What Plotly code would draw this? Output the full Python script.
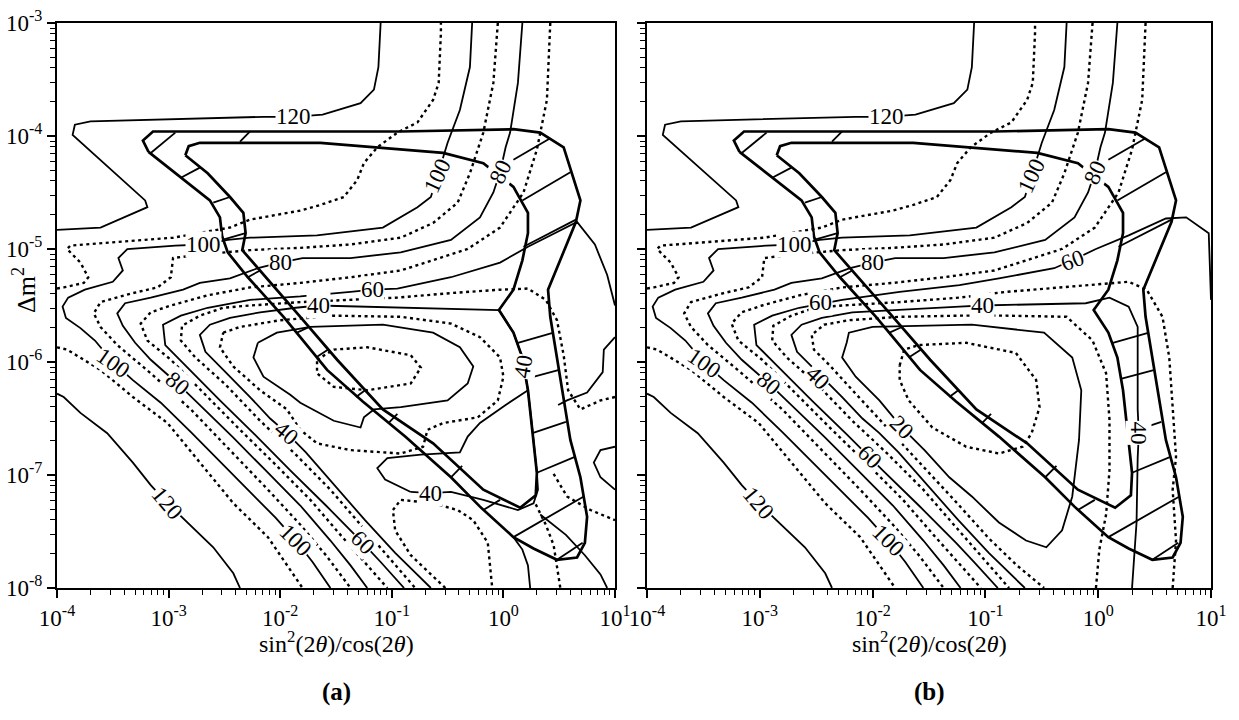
import numpy as np
import plotly.graph_objects as go

# All curve data are log10 values:  x = log10(sin^2(2θ)/cos(2θ)),  y = log10(Δm^2)

# ---------------- contours common to panels (a) and (b) ----------------
c120_top_x = [-4.00,-3.61,-3.19,-3.21,-3.86,-3.84,-3.70,-2.15,-1.88,-1.62,-1.28,-1.16,-1.12,-1.10]
c120_top_y = [-4.83,-4.81,-4.63,-4.57,-3.99,-3.90,-3.87,-3.83,-3.83,-3.81,-3.71,-3.59,-3.39,-3.00]
c120_low_x = [-4.00,-3.94,-3.79,-3.55,-3.32,-3.16,-3.01,-2.85,-2.60,-2.42,-2.36]
c120_low_y = [-6.28,-6.31,-6.45,-6.63,-6.89,-7.09,-7.25,-7.40,-7.64,-7.87,-8.00]
c110_top_x = [-4.00,-3.94,-3.76,-3.72,-3.79,-3.91,-3.88,-2.96,-2.45,-2.27,-1.82,-1.64,-1.43,-1.31,-1.25,-1.13,-0.95,-0.77,-0.63,-0.58,-0.56,-0.56]
c110_top_y = [-5.35,-5.34,-5.30,-5.25,-5.12,-5.00,-4.97,-4.90,-4.81,-4.74,-4.66,-4.61,-4.54,-4.39,-4.24,-4.10,-3.97,-3.88,-3.68,-3.53,-3.09,-3.00]
c110_low_x = [-4.00,-3.91,-3.61,-3.32,-3.01,-2.72,-2.42,-2.11,-1.80]
c110_low_y = [-5.87,-5.89,-6.07,-6.31,-6.54,-6.89,-7.25,-7.55,-8.00]
c100_x = [-0.28,-0.30,-0.39,-0.50,-0.59,-0.65,-0.77,-1.08,-1.67,-2.27,-2.47,-2.69,-2.94,-3.37,-3.45,-3.41,-3.50,
          -3.75,-3.90,-3.95,-3.92,-3.79,-3.66,-3.49,-3.32,-3.07,-2.80,-2.54,-2.27,-2.04,-1.86,-1.71,-1.55]
c100_y = [-3.00,-3.39,-3.77,-4.06,-4.35,-4.54,-4.63,-4.81,-4.88,-4.90,-4.92,-4.96,-4.97,-5.00,-5.08,-5.19,-5.29,
          -5.36,-5.43,-5.51,-5.61,-5.70,-5.81,-6.01,-6.16,-6.36,-6.62,-6.88,-7.15,-7.38,-7.58,-7.77,-8.00]
c90_x = [-0.05,-0.09,-0.18,-0.30,-0.41,-0.63,-0.92,-1.37,-1.82,-2.27,-2.72,-2.96,-2.98,-3.10,-3.32,-3.61,-3.67,
         -3.61,-3.46,-3.16,-2.80,-2.45,-2.11,-1.82,-1.59,-1.37]
c90_y = [-3.00,-3.53,-3.97,-4.33,-4.59,-4.77,-4.90,-4.96,-4.99,-5.01,-5.05,-5.08,-5.25,-5.34,-5.39,-5.47,-5.57,
         -5.69,-5.85,-6.10,-6.42,-6.78,-7.13,-7.44,-7.71,-8.00]
c80_x = [0.17,0.13,0.06,0.02,-0.03,-0.09,-0.21,-0.47,-0.92,-1.37,-1.80,-2.00,-2.20,-2.45,-2.72,-2.87,-3.16,-3.39,
         -3.46,-3.41,-3.30,-3.16,-2.92,-2.72,-2.42,-2.13,-1.82,-1.55,-1.37,-1.22]
c80_y = [-3.00,-3.53,-3.97,-4.10,-4.32,-4.50,-4.72,-4.92,-5.03,-5.08,-5.08,-5.12,-5.17,-5.26,-5.30,-5.36,-5.43,-5.48,
         -5.57,-5.68,-5.83,-5.98,-6.19,-6.38,-6.67,-6.96,-7.27,-7.58,-7.80,-8.00]
c70_x = [0.42,0.39,0.30,0.18,-0.03,-0.32,-0.92,-1.37,-1.82,-2.27,-2.65,-2.98,-3.16,-3.25,-3.19,-2.98,-2.67,-2.36,
         -2.04,-1.73,-1.46,-1.24,-1.04]
c70_y = [-3.00,-3.68,-4.12,-4.50,-4.81,-5.00,-5.19,-5.25,-5.30,-5.34,-5.41,-5.50,-5.56,-5.66,-5.81,-5.98,-6.29,-6.60,
         -6.91,-7.22,-7.53,-7.78,-8.00]

# hatched boundary band (outer and inner edge, cross strokes)
band_out_x = [-3.18,-3.23,-3.14,-2.27,-0.92,0.09,0.33,0.54,0.69,0.65,0.51,0.40,0.42,0.48,0.54,0.60,0.69,0.75,0.73,
              0.66,0.48,0.27,0.09,-0.21,-0.47,-0.88,-1.26,-1.58,-1.82,-1.97,-2.29,-2.47,-2.52,-2.54,-2.63,-2.89,-3.18]
band_out_y = [-4.14,-4.04,-3.96,-3.96,-3.96,-3.94,-3.97,-4.10,-4.57,-4.76,-5.10,-5.36,-5.60,-5.96,-6.34,-6.69,-7.02,
              -7.37,-7.60,-7.73,-7.75,-7.65,-7.55,-7.28,-7.02,-6.66,-6.35,-6.07,-5.78,-5.60,-5.25,-5.03,-4.89,-4.72,
              -4.57,-4.37,-4.14]
band_in_x = [-2.85,-2.82,-2.72,-1.64,-0.54,-0.18,0.09,0.22,0.22,0.17,0.09,-0.04,0.09,0.17,0.22,0.26,0.30,0.29,0.15,
             -0.18,-0.63,-1.08,-1.49,-1.82,-2.18,-2.34,-2.31,-2.33,-2.45,-2.65,-2.85]
band_in_y = [-4.17,-4.09,-4.06,-4.06,-4.15,-4.24,-4.45,-4.68,-4.86,-5.10,-5.36,-5.54,-5.74,-5.96,-6.25,-6.60,-6.98,
             -7.18,-7.29,-7.13,-6.72,-6.42,-5.98,-5.60,-5.19,-5.01,-4.86,-4.68,-4.54,-4.33,-4.17]
hatch_x0 = [-3.16,-2.36,-2.89,-2.60,-2.52,-2.29,-1.85,-1.68,-1.32,-1.03,-0.47,-0.18,0.09,0.17,0.18,0.13,0.20,0.26,0.30,0.09,0.48]
hatch_y0 = [-4.15,-4.05,-4.37,-4.59,-4.92,-5.25,-5.74,-5.96,-6.31,-6.54,-7.02,-7.31,-4.21,-4.57,-4.98,-5.83,-6.15,-6.63,-6.98,-7.55,-7.75]
hatch_x1 = [-2.94,-2.27,-2.72,-2.45,-2.31,-2.18,-1.74,-1.57,-1.24,-0.95,-0.37,-0.03,0.42,0.60,0.65,0.45,0.50,0.56,0.64,0.72,0.71]
hatch_y1 = [-3.97,-3.96,-4.28,-4.54,-4.86,-5.19,-5.69,-5.89,-6.25,-6.46,-6.92,-7.22,-4.02,-4.32,-4.74,-5.74,-6.07,-6.53,-6.84,-7.19,-7.60]

# ---------------- panel (a) only ----------------
c60a_x = [1.00,0.93,0.82,0.66,0.42,0.22,-0.03,-0.47,-0.95,-1.17,-1.37,-1.82,-2.27,-2.65,-2.89,-3.05,-3.03,-2.85,
          -2.54,-2.22,-1.91,-1.59,-1.39,-1.26,-1.10,-0.89]
c60a_y = [-5.50,-5.23,-4.96,-4.76,-4.88,-4.98,-5.12,-5.25,-5.35,-5.36,-5.38,-5.42,-5.45,-5.52,-5.59,-5.67,-5.85,-6.03,
          -6.34,-6.65,-6.96,-7.27,-7.47,-7.60,-7.77,-8.00]
c50a_x = [1.00,0.87,0.69,0.58,0.54,0.48,0.38,0.22,-0.03,-0.47,-0.95,-1.37,-1.82,-2.27,-2.51,-2.72,-2.88,-2.89,-2.76,
          -2.49,-2.18,-1.86,-1.55,-1.28,-1.01,-0.79]
c50a_y = [-6.31,-6.34,-6.42,-6.25,-5.94,-5.63,-5.45,-5.35,-5.36,-5.39,-5.43,-5.45,-5.47,-5.50,-5.52,-5.59,-5.68,-5.81,
          -5.96,-6.20,-6.52,-6.82,-7.13,-7.44,-7.75,-8.00]
c40a_x = [-0.83,-0.65,-0.47,-0.18,0.13,0.27,0.31,0.30,0.26,0.22,0.17,0.09,-0.04,-0.47,-0.92,-1.22,-1.46,-1.66,-1.86,
          -2.18,-2.45,-2.63,-2.72,-2.67,-2.49,-2.27,-2.09,-1.94,-1.77,-1.51,-1.24,-0.97,-0.65]
c40a_y = [-7.15,-7.16,-7.15,-7.22,-7.31,-7.25,-7.13,-6.98,-6.60,-6.25,-5.96,-5.74,-5.54,-5.53,-5.52,-5.51,-5.51,-5.50,
          -5.52,-5.56,-5.61,-5.67,-5.76,-5.91,-6.09,-6.31,-6.50,-6.63,-6.80,-7.09,-7.40,-7.69,-8.00]
c40a_wave_x = [-0.83,-1.06,-1.13,-1.04,-0.74,-0.39,-0.32,-0.21,0.02,0.22]
c40a_wave_y = [-7.15,-7.04,-6.94,-6.85,-6.82,-6.80,-6.66,-6.54,-6.38,-6.25]
c30a_x = [-2.51,-2.36,-2.00,-1.52,-0.92,-0.47,-0.21,-0.03,0.00,-0.05,-0.23,-0.54,-0.68,-0.72,-0.92,-1.37,-1.67,-1.82,
          -1.94,-2.18,-2.42,-2.54,-2.51]
c30a_y = [-5.74,-5.69,-5.63,-5.59,-5.60,-5.66,-5.78,-5.96,-6.13,-6.34,-6.49,-6.54,-6.60,-6.75,-6.81,-6.78,-6.72,-6.60,
          -6.42,-6.25,-6.04,-5.87,-5.74]
c20a_x = [-2.20,-2.03,-1.73,-1.08,-0.63,-0.39,-0.27,-0.32,-0.50,-0.92,-1.16,-1.25,-1.28,-1.52,-1.82,-1.91,-2.15,-2.24,-2.20]
c20a_y = [-5.83,-5.74,-5.69,-5.67,-5.74,-5.87,-6.04,-6.19,-6.34,-6.40,-6.42,-6.49,-6.58,-6.52,-6.36,-6.29,-6.13,-5.96,-5.83]
c10a_x = [-1.67,-1.52,-1.22,-0.83,-0.74,-0.83,-1.22,-1.52,-1.67,-1.67]
c10a_y = [-5.98,-5.89,-5.87,-5.94,-6.05,-6.19,-6.25,-6.22,-6.10,-5.98]
cUa_x = [-0.52,-0.65,-0.83,-0.97,-0.99,-0.92,-0.63,-0.41,-0.27,-0.14,-0.12,-0.10]
cUa_y = [-8.00,-7.88,-7.71,-7.49,-7.31,-7.22,-7.25,-7.31,-7.40,-7.60,-7.78,-8.00]
a_s1_x = [0.09,0.17,0.22,0.24];             a_s1_y = [-7.55,-7.66,-7.80,-8.00]
a_s2_x = [0.33,0.56,0.73,0.87,0.93];        a_s2_y = [-7.35,-7.53,-7.71,-7.88,-8.00]
a_s3_x = [1.00,0.87,0.81,0.87,1.00];        a_s3_y = [-6.75,-6.78,-6.89,-7.02,-7.13]
a_s4_x = [1.00,0.90,0.89,0.75,0.57,0.49];   a_s4_y = [-5.78,-5.89,-6.09,-6.27,-6.34,-6.38]
a_d1_x = [0.29,0.38,0.45,0.48,0.51];        a_d1_y = [-7.26,-7.44,-7.62,-7.80,-8.00]
a_d2_x = [0.45,0.57,0.78,1.00];             a_d2_y = [-6.99,-7.19,-7.31,-7.40]

# ---------------- panel (b) only ----------------
c60b_right_x = [1.00,0.98,0.78,0.60,0.27,-0.02,-0.23,-0.39,-0.88,-1.23,-1.76]
c60b_right_y = [-5.45,-4.86,-4.72,-4.73,-4.88,-5.00,-5.10,-5.17,-5.26,-5.32,-5.38]
c50b_right_x = [0.66,0.69,0.66,0.69,0.66,0.63,0.57,0.43,0.27,0.01,-0.35,-0.82,-1.23,-1.76]
c50b_right_y = [-8.00,-7.58,-7.13,-6.84,-6.40,-5.96,-5.60,-5.36,-5.29,-5.31,-5.34,-5.38,-5.43,-5.47]
c40b_right_x = [0.30,0.34,0.35,0.36,0.35,0.35,0.27,0.10,-0.11,-0.52,-0.79,-1.03,-1.23,-1.76]
c40b_right_y = [-8.00,-7.42,-6.85,-6.63,-6.42,-5.69,-5.51,-5.43,-5.48,-5.49,-5.49,-5.50,-5.51,-5.54]
c30b_x = [-0.02,0.01,0.07,0.10,0.10,0.07,-0.05,-0.28,-0.82,-1.23,-1.76,-2.21,-2.43,-2.54,-2.52,-2.38,-2.16,-1.87,
          -1.57,-1.25,-0.97,-0.72,-0.48]
c30b_y = [-8.00,-7.66,-7.35,-6.96,-6.51,-6.10,-5.81,-5.60,-5.59,-5.59,-5.60,-5.63,-5.67,-5.76,-5.89,-6.03,-6.27,-6.58,
          -6.91,-7.25,-7.56,-7.80,-8.00]
c20b_x = [-2.23,-2.27,-2.15,-1.94,-1.74,-1.54,-1.32,-1.12,-0.88,-0.64,-0.46,-0.32,-0.23,-0.17,-0.15,-0.23,-0.48,-1.12,
          -2.00,-2.21,-2.23]
c20b_y = [-5.83,-5.96,-6.13,-6.34,-6.58,-6.78,-7.02,-7.19,-7.42,-7.58,-7.64,-7.49,-7.19,-6.69,-6.25,-5.96,-5.74,-5.67,
          -5.69,-5.74,-5.83]
c10b_x = [-1.76,-1.72,-1.59,-1.17,-0.73,-0.55,-0.52,-0.59,-0.67,-0.88,-1.17,-1.47,-1.68,-1.76,-1.76]
c10b_y = [-6.03,-5.89,-5.85,-5.83,-5.92,-6.16,-6.40,-6.63,-6.75,-6.81,-6.75,-6.58,-6.34,-6.16,-6.03]

# panel (b) contours 60, 50, 40 continue along the same lower-left arms as in (a)
c60b_x = c60b_right_x + c60a_x[12:];  c60b_y = c60b_right_y + c60a_y[12:]
c50b_x = c50b_right_x + c50a_x[13:];  c50b_y = c50b_right_y + c50a_y[13:]
c40b_x = c40b_right_x + c40a_x[19:];  c40b_y = c40b_right_y + c40a_y[19:]

# ---------------- contour labels ----------------
lab_common = [("120", -1.88, -3.83, 0), ("120", -3.01, -7.25, 50), ("100", -0.59, -4.35, -65),
              ("100", -2.69, -4.96, 0), ("100", -3.49, -6.01, 35), ("100", -1.86, -7.58, 45),
              ("80", -0.03, -4.32, -65), ("80", -2.00, -5.12, 0), ("80", -2.92, -6.19, 40)]
lab_a = [("60", -1.17, -5.36, 0), ("60", -1.26, -7.60, 45), ("40", -1.66, -5.50, 0),
         ("40", -1.94, -6.63, 40), ("40", -0.65, -7.16, 0), ("40", 0.18, -6.04, -80)]
lab_b = [("60", -2.46, -5.47, 0), ("60", -0.23, -5.10, -20), ("60", -2.03, -6.84, 45),
         ("40", -1.03, -5.50, 0), ("40", -2.49, -6.14, 45), ("20", -1.74, -6.58, 45),
         ("40", 0.36, -6.63, 90)]

x_tick_exp = [-4, -3, -2, -1, 0, 1]
y_tick_exp = [-8, -7, -6, -5, -4, -3]

# ---------------- figure ----------------
SOLID = dict(color="black", width=1.8)
DASH = dict(color="black", width=2.4, dash="3px,3.5px")
BAND = dict(color="black", width=2.7)

fig = go.Figure()

def add(xs, ys, ax, line):
    fig.add_trace(go.Scatter(x=np.power(10.0, np.array(xs)), y=np.power(10.0, np.array(ys)),
                             mode="lines", line=line, xaxis=ax[0], yaxis=ax[1],
                             hoverinfo="skip", showlegend=False))

common_solid = [(c120_top_x, c120_top_y), (c120_low_x, c120_low_y), (c100_x, c100_y), (c80_x, c80_y)]
common_dash = [(c110_top_x, c110_top_y), (c110_low_x, c110_low_y), (c90_x, c90_y), (c70_x, c70_y)]
a_solid = [(c60a_x, c60a_y), (c40a_x, c40a_y), (c40a_wave_x, c40a_wave_y), (c20a_x, c20a_y),
           (a_s1_x, a_s1_y), (a_s2_x, a_s2_y), (a_s3_x, a_s3_y), (a_s4_x, a_s4_y)]
a_dash = [(c50a_x, c50a_y), (c30a_x, c30a_y), (c10a_x, c10a_y), (cUa_x, cUa_y), (a_d1_x, a_d1_y), (a_d2_x, a_d2_y)]
b_solid = [(c60b_x, c60b_y), (c40b_x, c40b_y), (c20b_x, c20b_y)]
b_dash = [(c50b_x, c50b_y), (c30b_x, c30b_y), (c10b_x, c10b_y)]

hx, hy = [], []
for x0, y0, x1, y1 in zip(hatch_x0, hatch_y0, hatch_x1, hatch_y1):
    hx += [10 ** x0, 10 ** x1, None]
    hy += [10 ** y0, 10 ** y1, None]

panels = {"a": ("x", "y"), "b": ("x2", "y2")}
for key, ax in panels.items():
    for xs, ys in common_solid:
        add(xs, ys, ax, SOLID)
    for xs, ys in common_dash:
        add(xs, ys, ax, DASH)
    for xs, ys in (a_solid if key == "a" else b_solid):
        add(xs, ys, ax, SOLID)
    for xs, ys in (a_dash if key == "a" else b_dash):
        add(xs, ys, ax, DASH)
    add(band_out_x, band_out_y, ax, BAND)
    add(band_in_x, band_in_y, ax, BAND)
    fig.add_trace(go.Scatter(x=hx, y=hy, mode="lines", line=SOLID, xaxis=ax[0], yaxis=ax[1],
                             hoverinfo="skip", showlegend=False))

LABEL_FONT = dict(family="Liberation Serif", size=23, color="black")
ann = []
for key, ax in panels.items():
    for txt, lx, ly, ang in lab_common + (lab_a if key == "a" else lab_b):
        ann.append(dict(x=lx, y=ly, xref=ax[0], yref=ax[1], text=txt, textangle=ang, showarrow=False,
                        xanchor="center", yanchor="middle",
                        font=LABEL_FONT, bgcolor="white", borderpad=0))

W, H = 1239, 720
TITLE_FONT = dict(family="Liberation Serif", size=24, color="black")
PANEL_FONT = dict(family="Liberation Serif", size=25, color="black")
def paper_text(px, py, text, font, angle=0):
    return dict(x=px / W, y=1 - py / H, xref="paper", yref="paper", showarrow=False, text=text,
                font=font, textangle=angle, xanchor="center", yanchor="middle")

ann += [
    paper_text(336, 642, "sin<sup>2</sup>(2<i>θ</i>)/cos(2<i>θ</i>)", TITLE_FONT),
    paper_text(929, 642, "sin<sup>2</sup>(2<i>θ</i>)/cos(2<i>θ</i>)", TITLE_FONT),
    paper_text(336, 692, "<b>(a)</b>", PANEL_FONT),
    paper_text(929, 692, "<b>(b)</b>", PANEL_FONT),
    paper_text(24, 290, "Δm<sup>2</sup>", dict(family="Liberation Serif", size=26, color="black"), -90),
]

xt_vals = [10.0 ** e for e in x_tick_exp]
xt_text = ["10<sup>%d</sup>" % e for e in x_tick_exp]
yt_vals = [10.0 ** e for e in y_tick_exp]
yt_text = ["10<sup>%d</sup>" % e for e in y_tick_exp]
x_minor = [m * 10.0 ** e for e in x_tick_exp[:-1] for m in range(2, 10)]
y_minor = [m * 10.0 ** e for e in y_tick_exp[:-1] for m in range(2, 10)]
TICK_FONT = dict(family="Liberation Serif", size=23, color="black")

def xaxis(dom, anchor):
    return dict(type="log", range=[-4, 1], domain=dom, anchor=anchor, showgrid=False, zeroline=False,
                automargin=False,
                showline=True, linecolor="black", linewidth=2, mirror=True,
                ticks="outside", ticklen=8, tickwidth=1.5, tickcolor="black",
                tickmode="array", tickvals=xt_vals, ticktext=xt_text, tickfont=TICK_FONT,
                minor=dict(ticks="outside", ticklen=5, tickwidth=1.3, tickcolor="black",
                           tickmode="array", tickvals=x_minor, showgrid=False))

def yaxis(dom, anchor, labels):
    return dict(type="log", range=[-8, -3], domain=dom, anchor=anchor, showgrid=False, zeroline=False,
                automargin=False,
                showline=True, linecolor="black", linewidth=2, mirror=True,
                ticks="outside", ticklen=8, tickwidth=1.5, tickcolor="black",
                tickmode="array", tickvals=yt_vals, ticktext=yt_text, tickfont=TICK_FONT,
                showticklabels=labels,
                minor=dict(ticks="outside", ticklen=5, tickwidth=1.3, tickcolor="black",
                           tickmode="array", tickvals=y_minor, showgrid=False))

ydom = [1 - 588 / H, 1 - 23 / H]
fig.update_layout(
    width=W, height=H, autosize=False,
    margin=dict(l=0, r=0, t=0, b=0, pad=0),
    paper_bgcolor="white", plot_bgcolor="white",
    xaxis=xaxis([57 / W, 615 / W], "y"),
    yaxis=yaxis(ydom, "x", True),
    xaxis2=xaxis([647 / W, 1211 / W], "y2"),
    yaxis2=yaxis(ydom, "x2", False),
    annotations=ann,
)

fig.write_html("out.html", config={"displayModeBar": False},
               post_script="document.body.style.margin='0px';")
